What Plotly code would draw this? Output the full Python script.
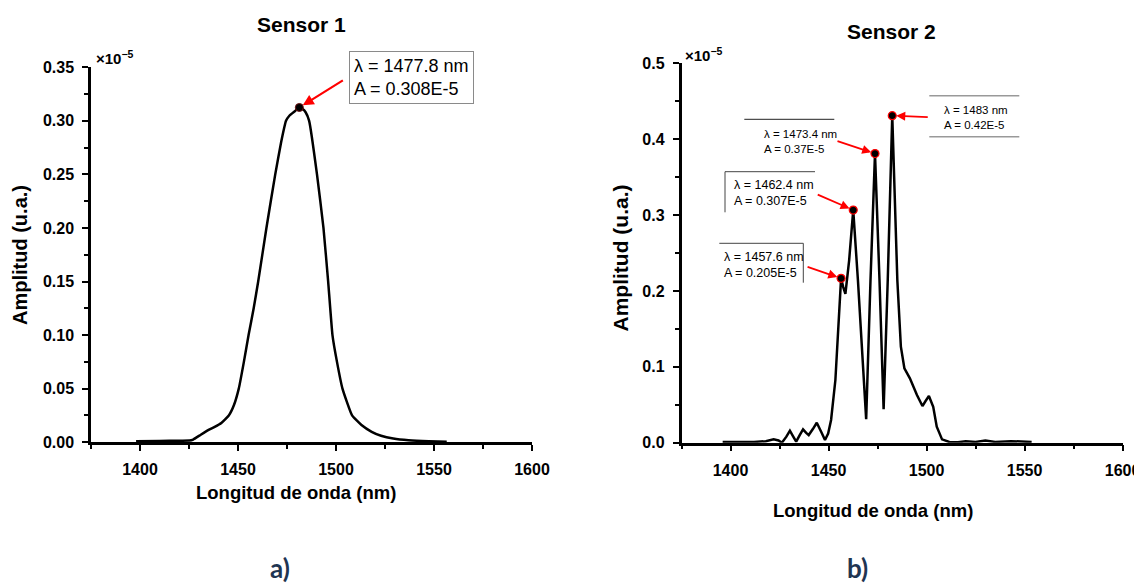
import plotly.graph_objects as go

# ---------------- data ----------------
# Sensor 1 spectrum (amplitude in units of 1e-5)
wl1 = [1398, 1410, 1420, 1425.3, 1427.1, 1431, 1435, 1438.1, 1441.5, 1445.3, 1448, 1450.4,
       1453, 1455.4, 1458, 1460.3, 1464.5, 1469, 1472, 1474.5, 1476.3, 1479, 1481.3, 1483,
       1484.5, 1486.3, 1490.3, 1493.6, 1496, 1498.2, 1500.5, 1503.3, 1508.2, 1513, 1518.2,
       1523, 1529.2, 1537, 1547.4, 1556.5]
amp1 = [0.001, 0.0012, 0.0014, 0.0015, 0.0025, 0.007, 0.0115, 0.0143, 0.018, 0.025, 0.035, 0.05,
        0.075, 0.10, 0.125, 0.15, 0.20, 0.25, 0.28, 0.30, 0.305, 0.309, 0.3125, 0.311,
        0.308, 0.30, 0.25, 0.20, 0.15, 0.10, 0.075, 0.05, 0.025, 0.016, 0.0097,
        0.006, 0.0034, 0.0018, 0.0009, 0.0005]

# Sensor 2 spectrum
wl2 = [1396, 1405, 1412, 1418, 1422, 1424.5, 1426.2, 1428.5, 1430.3, 1432, 1433.5, 1435.3,
       1437.0, 1438.6, 1439.9, 1442, 1444.0, 1446.3, 1448.2, 1449.8, 1451.3, 1453.5, 1455.3,
       1456.4, 1457.5, 1458.6, 1460.5, 1462.6, 1465.0, 1469.2, 1471.4, 1473.7, 1476.0, 1478.1,
       1480.2, 1482.5, 1485.1, 1486.9, 1488.7, 1491.5, 1495.1, 1497.9, 1499.5, 1501.2, 1503.4,
       1505.2, 1507.9, 1511.6, 1516, 1520, 1525, 1530, 1535, 1543, 1553.6]
amp2 = [0.001, 0.0005, 0.001, 0.002, 0.0044, 0.003, 0.0, 0.008, 0.0158, 0.008, 0.0013, 0.010,
        0.0176, 0.013, 0.0101, 0.018, 0.0263, 0.014, 0.0035, 0.012, 0.030, 0.0826, 0.170,
        0.2166, 0.205, 0.196, 0.240, 0.3066, 0.214, 0.031, 0.214, 0.381, 0.214, 0.044,
        0.214, 0.431, 0.214, 0.1265, 0.098, 0.0848, 0.0628, 0.0483, 0.055, 0.0615, 0.0474,
        0.0211, 0.0044, 0.001, 0.0005, 0.002, 0.001, 0.003, 0.001, 0.002, 0.001]

# marked peaks
peak1_wl = [1481.3]
peak1_amp = [0.3125]
peak1_labels = ["λ = 1477.8 nm<br>A = 0.308E-5"]

peak2_wl = [1456.4, 1462.6, 1473.7, 1482.5]
peak2_amp = [0.2166, 0.3066, 0.381, 0.431]
peak2_labels = ["λ = 1457.6 nm<br>A = 0.205E-5",
                "λ = 1462.4 nm<br>A = 0.307E-5",
                "λ = 1473.4 nm<br>A = 0.37E-5",
                "λ = 1483 nm<br>A = 0.42E-5"]

x_title = "Longitud de onda (nm)"
y_title = "Amplitud (u.a.)"
titles = ["Sensor 1", "Sensor 2"]
panel_tags = ["a)", "b)"]

# ---------------- layout helpers ----------------
W, H = 1142, 583
OFF = 8  # page body margin: the figure is drawn 8 px right and down
FONT = "Liberation Sans, Arial, sans-serif"


def fx(px):
    return (px - OFF) / W


def fy(py):
    return 1 - (py - OFF) / H


fig = go.Figure()

fig.add_trace(go.Scatter(x=wl1, y=amp1, mode="lines", xaxis="x", yaxis="y",
                         line=dict(color="black", width=2.5, shape="spline", smoothing=0.4),
                         hoverinfo="skip"))
fig.add_trace(go.Scatter(x=peak1_wl, y=peak1_amp, mode="markers", xaxis="x", yaxis="y",
                         marker=dict(color="black", size=8, line=dict(color="#6b1010", width=1))))
fig.add_trace(go.Scatter(x=wl2, y=amp2, mode="lines", xaxis="x2", yaxis="y2",
                         line=dict(color="black", width=2.5), hoverinfo="skip"))
fig.add_trace(go.Scatter(x=peak2_wl, y=peak2_amp, mode="markers", xaxis="x2", yaxis="y2",
                         marker=dict(color="black", size=8, line=dict(color="red", width=1.2))))

tickfont = dict(family=FONT, size=16, color="black", weight="bold")
axis_common = dict(showline=True, linecolor="black", linewidth=2.5, ticks="outside",
                   ticklen=6, tickwidth=2, tickcolor="black", showgrid=False, zeroline=False,
                   tickfont=tickfont, ticklabelstandoff=5, automargin=False)

fig.update_layout(
    width=W, height=H, margin=dict(l=0, r=0, t=0, b=0, autoexpand=False),
    paper_bgcolor="white", plot_bgcolor="white", showlegend=False,
    xaxis=dict(domain=[fx(91), fx(532)], range=[1375, 1600], anchor="y",
               tick0=1400, dtick=50,
               minor=dict(dtick=25, tick0=1375, ticks="outside", ticklen=4, tickwidth=2,
                          tickcolor="black"),
               **axis_common),
    yaxis=dict(domain=[fy(442.2), fy(67.3)], range=[0, 0.350001], anchor="x",
               tick0=0, dtick=0.05, tickformat=".2f",
               minor=dict(dtick=0.025, ticks="outside", ticklen=4, tickwidth=2,
                          tickcolor="black"),
               **axis_common),
    xaxis2=dict(domain=[fx(681.5), fx(1122.6)], range=[1375, 1600], anchor="y2",
                tick0=1400, dtick=50,
                minor=dict(dtick=25, tick0=1375, ticks="outside", ticklen=4, tickwidth=2,
                           tickcolor="black"),
                **axis_common),
    yaxis2=dict(domain=[fy(442.7), fy(63.3)], range=[0, 0.500001], anchor="x2",
                tick0=0, dtick=0.1, tickformat=".1f",
                minor=dict(dtick=0.05, ticks="outside", ticklen=4, tickwidth=2,
                           tickcolor="black"),
                **axis_common),
)

ann = []


def text(px, py, s, size, bold=False, xanchor="center", yanchor="middle", angle=0,
         family=FONT, color="black", **kw):
    d = dict(x=fx(px), y=fy(py), xref="paper", yref="paper", text=s, showarrow=False,
             xanchor=xanchor, yanchor=yanchor, textangle=angle,
             font=dict(family=family, size=size, color=color,
                       weight="bold" if bold else "normal"))
    d.update(kw)
    ann.append(d)


# titles
text(301, 25, titles[0], 21, bold=True)
text(891.5, 31, titles[1], 21, bold=True)
# axis titles
text(295.5, 492, x_title, 18.5, bold=True)
text(873, 510, x_title, 18.5, bold=True)
text(20, 255, y_title, 20, bold=True, angle=-90)
text(620, 258.5, y_title, 21, bold=True, angle=-90)
# multipliers
text(93.5, 58, "×10<sup>−5</sup>", 15, bold=True, xanchor="left")
text(683, 54, "×10<sup>−5</sup>", 15, bold=True, xanchor="left")
# panel tags
text(279.5, 568, panel_tags[0], 26, bold=True, family="Lato, Open Sans, sans-serif",
     color="#1F3552")
text(857.5, 568, panel_tags[1], 26, bold=True, family="Lato, Open Sans, sans-serif",
     color="#1F3552")

# sensor 1 label box
text(411, 78, peak1_labels[0], 18, xanchor="center", align="left",
     bordercolor="#8a8a8a", borderwidth=1, borderpad=4, bgcolor="white")
# sensor 1 arrow
ann.append(dict(x=peak1_wl[0], y=peak1_amp[0], xref="x", yref="y", text="", showarrow=True,
                ax=45, ay=-28, arrowhead=2, arrowsize=1, arrowwidth=2.2, arrowcolor="red",
                standoff=4))

# sensor 2 labels (left edge px, center y px)
label_pos = [(721.7, 265.2), (732.3, 193.3), (761.7, 141.7), (941.7, 117.9)]
label_size = [12.5, 12.5, 11.5, 11.5]
for (lx, ly), s, fs in zip(label_pos, peak2_labels, label_size):
    text(lx, ly, s, fs, xanchor="left", align="left")
arrow_off = [(-35, -12), (-37, -16), (-39, -13), (37, 1.5)]
for xv, yv, (axo, ayo) in zip(peak2_wl, peak2_amp, arrow_off):
    ann.append(dict(x=xv, y=yv, xref="x2", yref="y2", text="", showarrow=True,
                    ax=axo, ay=ayo, arrowhead=2, arrowsize=1, arrowwidth=1.8,
                    arrowcolor="red", standoff=4))

fig.update_layout(annotations=ann)

# label frame lines (pixel positions)
frame_lines = [
    (719.3, 243.3, 803.3, 243.3, "#444", 1),
    (803.3, 243.3, 803.3, 282.7, "#444", 1),
    (725, 171.7, 815, 171.7, "#444", 1),
    (725, 171.7, 725, 212.3, "#444", 1),
    (744.3, 119.3, 834.3, 119.3, "#222", 1),
    (929.3, 95.7, 1019.3, 95.7, "#999", 1.5),
    (929.3, 136.7, 1019.3, 136.7, "#999", 1.5),
]
shapes = []
for x0, y0, x1, y1, c, w in frame_lines:
    shapes.append(dict(type="line", xref="paper", yref="paper", x0=fx(x0), y0=fy(y0),
                       x1=fx(x1), y1=fy(y1), line=dict(color=c, width=w)))
fig.update_layout(shapes=shapes)

fig.write_html("out.html")
